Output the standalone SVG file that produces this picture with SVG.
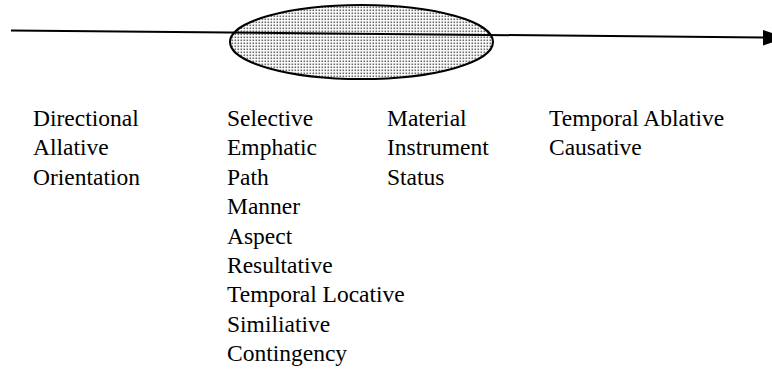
<svg xmlns="http://www.w3.org/2000/svg" width="772" height="369" viewBox="0 0 772 369">
  <style>
    .lbl text { font-family: "Liberation Serif", "Times New Roman", serif; font-size: 23.5px; fill: #000; }
    .stroke { stroke: #000; stroke-width: 2; }
  </style>
  <defs>
    <pattern id="dots" width="3" height="3" patternUnits="userSpaceOnUse">
      <rect width="3" height="3" fill="#ffffff"/>
      <rect x="0.5" y="0.5" width="1.6" height="1.6" fill="#6a6a6a"/>
    </pattern>
  </defs>
  <rect width="772" height="369" fill="#ffffff"/>
  <g id="ellipse">
    <ellipse cx="361.5" cy="42" rx="131.5" ry="37" fill="url(#dots)" class="stroke"/>
  </g>
  <g id="connectors">
    <line x1="11" y1="30.5" x2="764" y2="37.5" class="stroke"/>
    <polygon points="763,30 786,37.7 763,45.5" fill="#000"/>
  </g>
  <g id="col1" class="lbl">
    <text x="33" y="126">Directional</text>
    <text x="33" y="155.4">Allative</text>
    <text x="33" y="184.8">Orientation</text>
  </g>
  <g id="col2" class="lbl">
    <text x="227" y="126">Selective</text>
    <text x="227" y="155.4">Emphatic</text>
    <text x="227" y="184.8">Path</text>
    <text x="227" y="214.2">Manner</text>
    <text x="227" y="243.6">Aspect</text>
    <text x="227" y="273">Resultative</text>
    <text x="227" y="302.4">Temporal Locative</text>
    <text x="227" y="331.8">Similiative</text>
    <text x="227" y="361.2">Contingency</text>
  </g>
  <g id="col3" class="lbl">
    <text x="387" y="126">Material</text>
    <text x="387" y="155.4">Instrument</text>
    <text x="387" y="184.8">Status</text>
  </g>
  <g id="col4" class="lbl">
    <text x="549" y="126">Temporal Ablative</text>
    <text x="549" y="155.4">Causative</text>
  </g>
</svg>
